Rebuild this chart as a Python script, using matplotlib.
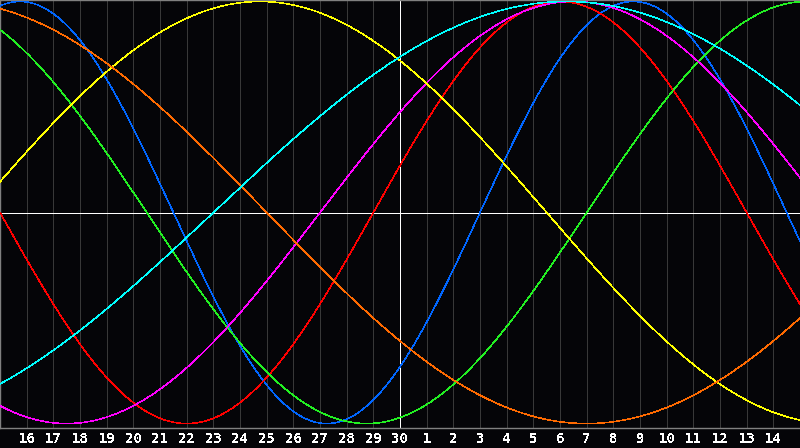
import numpy as np
import matplotlib
matplotlib.use("Agg")
import matplotlib.pyplot as plt

# =========================
# Data (biorhythm cycles)
# =========================
# cycle length in days and position inside the cycle on the centre day (30)
periods = [23, 28, 33, 38, 43, 48, 53]
cycle_day = [20, 1, 26, 3, 16, 29, 7]
colors = ['#0066ff', '#ff0000', '#22f022', '#ff00ff', '#ffff00', '#ff6a00', '#00ffff']

# day labels, from 15 days before to 14 days after the centre day
day_offsets = list(range(-14, 15))
day_labels = [str(d) for d in range(16, 31)] + [str(d) for d in range(1, 15)]

# =========================
# Figure
# =========================
plt.rcParams['text.antialiased'] = False
fig = plt.figure(figsize=(8, 4.48), dpi=100, facecolor='#050508')
ax = fig.add_axes([0, 20 / 448, 1, 428 / 448])
ax.set_facecolor('#050508')

ax.set_xlim(-15, 15)
ax.set_ylim(-1.021, 1.007)

lw = 0.5

# grid
for d in day_offsets:
    if d != 0:
        ax.axvline(d, color='#383838', lw=lw, antialiased=False, zorder=1)
ax.axvline(0, color='white', lw=lw, antialiased=False, zorder=2)
ax.axhline(0, color='white', lw=lw, antialiased=False, zorder=2)

# curves
x = np.linspace(-15, 15, 1601)
for p, c0, col in zip(periods, cycle_day, colors):
    y = np.sin(2 * np.pi * (x + c0) / p)
    ax.plot(x, y, color=col, lw=0.4, antialiased=False, zorder=3)

# frame
for side in ['top', 'left', 'bottom']:
    ax.spines[side].set_color('#808080')
    ax.spines[side].set_linewidth(1.0)
ax.spines['right'].set_visible(False)

ax.set_yticks([])
ax.set_xticks(day_offsets)
ax.set_xticklabels(day_labels, color='white', fontsize=10,
                   fontweight='bold', family='DejaVu Sans Mono')
ax.tick_params(axis='x', length=0, pad=3)

fig.savefig("out.png", dpi=100, facecolor=fig.get_facecolor())
